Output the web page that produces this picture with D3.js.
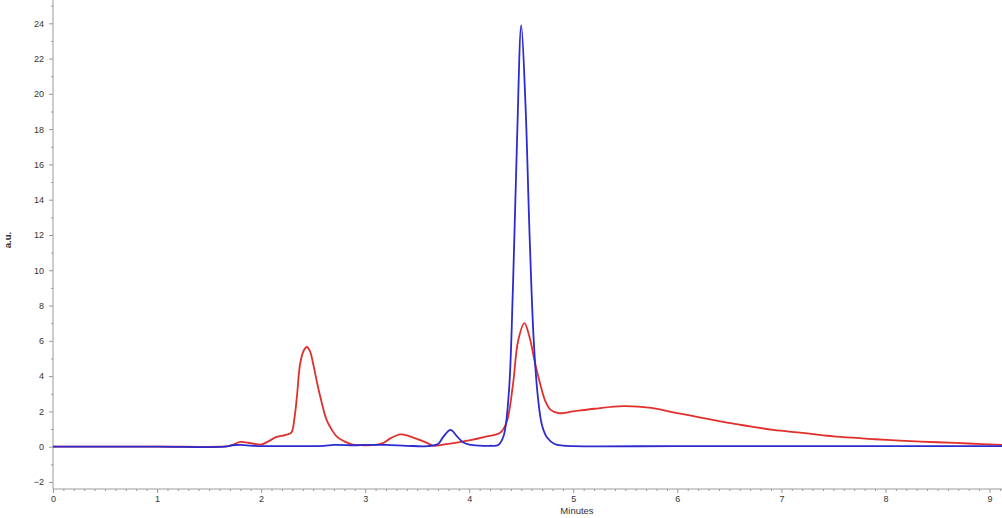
<!DOCTYPE html>
<html>
<head>
<meta charset="utf-8">
<script src="https://cdn.jsdelivr.net/npm/d3@7"></script>
<style>
  body { margin: 0; background: #fff; }
  svg { display: block; font-family: "Liberation Sans", Arial, sans-serif; }
  .axis path, .axis line { stroke: #9a9a9a; }
  .axis text { fill: #333; font-size: 9px; }
  .trace { fill: none; stroke-width: 1.8; stroke-linejoin: round; }
</style>
</head>
<body>
<div id="chart"></div>
<script>
// Chromatogram: two traces, red and blue

////////////////////////////////////////////////////////////////////////////////
// Data
const redTime = [0, 1.0, 1.6, 1.7, 1.8, 1.9, 2.0, 2.06, 2.15, 2.23, 2.29, 2.32, 2.345, 2.375, 2.41, 2.44, 2.47, 2.5, 2.535, 2.57, 2.63, 2.68, 2.73, 2.8, 2.88, 2.98, 3.1, 3.17, 3.25, 3.34, 3.42, 3.53, 3.6, 3.66, 3.75, 3.85, 4.0, 4.15, 4.3, 4.36, 4.42, 4.47, 4.53, 4.58, 4.63, 4.68, 4.73, 4.78, 4.86, 5.0, 5.2, 5.48, 5.75, 5.96, 6.2, 6.44, 6.7, 6.92, 7.2, 7.57, 7.9, 8.14, 8.5, 8.8, 9.12];
const redValue = [0, 0, 0, 0.04, 0.27, 0.2, 0.12, 0.27, 0.55, 0.66, 0.8, 1.6, 2.9, 4.7, 5.45, 5.65, 5.4, 4.7, 3.7, 2.8, 1.5, 0.95, 0.55, 0.3, 0.12, 0.08, 0.1, 0.2, 0.5, 0.7, 0.6, 0.37, 0.2, 0.05, 0.12, 0.2, 0.35, 0.55, 0.8, 1.4, 3.5, 6.0, 7.0, 6.2, 4.8, 3.6, 2.6, 2.1, 1.9, 2.0, 2.15, 2.3, 2.2, 1.95, 1.68, 1.4, 1.15, 0.95, 0.78, 0.55, 0.42, 0.34, 0.25, 0.18, 0.1];

const blueTime = [0, 1.0, 1.65, 1.72, 1.8, 1.9, 2.0, 2.3, 2.6, 2.7, 2.9, 3.0, 3.2, 3.4, 3.6, 3.7, 3.75, 3.82, 3.88, 3.94, 4.0, 4.1, 4.2, 4.28, 4.33, 4.38, 4.42, 4.46, 4.5, 4.54, 4.58, 4.62, 4.66, 4.7, 4.75, 4.82, 4.9, 5.0, 6.0, 7.0, 8.0, 9.12];
const blueValue = [0, 0, 0, 0.08, 0.1, 0.06, 0.03, 0.03, 0.04, 0.1, 0.08, 0.1, 0.1, 0.05, 0.03, 0.15, 0.55, 0.95, 0.6, 0.25, 0.12, 0.06, 0.05, 0.1, 0.6, 3.0, 9.0, 17.5, 23.9, 19.5, 12.0, 6.0, 2.8, 1.2, 0.5, 0.15, 0.06, 0.03, 0.03, 0.03, 0.03, 0.03];

const xTicks = [0, 1, 2, 3, 4, 5, 6, 7, 8, 9];
const yTicks = [-2, 0, 2, 4, 6, 8, 10, 12, 14, 16, 18, 20, 22, 24];

////////////////////////////////////////////////////////////////////////////////
// Setup
const W = 1002, H = 518;
const left = 53, plotBottom = 489;

const x = d3.scaleLinear().domain([0, 9.12]).range([left, W]);
const y = d3.scaleLinear().domain([-2.4, 25.32]).range([plotBottom, 0]);

const svg = d3.select('#chart').append('svg')
  .attr('width', W)
  .attr('height', H);

// minor ticks
const xMinor = d3.range(0, 9.11, 0.1).filter(d => Math.abs(d - Math.round(d)) > 1e-6);
const yMinor = d3.range(-2, 25.1, 1).filter(d => d % 2 !== 0);

svg.append('g')
  .attr('class', 'axis')
  .attr('transform', `translate(0,${plotBottom})`)
  .call(d3.axisBottom(x).tickValues(xMinor).tickSize(2).tickFormat(''))
  .call(g => g.select('.domain').remove());

svg.append('g')
  .attr('class', 'axis')
  .attr('transform', `translate(0,${plotBottom})`)
  .call(d3.axisBottom(x).tickValues(xTicks).tickSize(4).tickPadding(3).tickFormat(d3.format('d')))
  .call(g => g.select('.domain').attr('d', `M${left},0H${W}`));

svg.append('g')
  .attr('class', 'axis')
  .attr('transform', `translate(${left},0)`)
  .call(d3.axisLeft(y).tickValues(yMinor).tickSize(2).tickFormat(''))
  .call(g => g.select('.domain').remove());

svg.append('g')
  .attr('class', 'axis')
  .attr('transform', `translate(${left},0)`)
  .call(d3.axisLeft(y).tickValues(yTicks).tickSize(4).tickPadding(5).tickFormat(d3.format('d')))
  .call(g => g.select('.domain').attr('d', `M0,0V${plotBottom}`));

// axis titles
svg.append('text')
  .attr('x', 577)
  .attr('y', 514)
  .attr('text-anchor', 'middle')
  .attr('font-size', 9.5)
  .attr('fill', '#333')
  .text('Minutes');

svg.append('text')
  .attr('transform', `translate(11,240) rotate(-90)`)
  .attr('text-anchor', 'middle')
  .attr('font-size', 9.5)
  .attr('font-weight', 'bold')
  .attr('fill', '#333')
  .text('a.u.');

////////////////////////////////////////////////////////////////////////////////
// Traces
const line = d3.line()
  .x(d => x(d[0]))
  .y(d => y(d[1]))
  .curve(d3.curveCatmullRom.alpha(0.5));

svg.append('path')
  .attr('class', 'trace')
  .attr('stroke', '#e0302c')
  .attr('d', line(d3.zip(redTime, redValue)));

svg.append('path')
  .attr('class', 'trace')
  .attr('stroke', '#2b2bd0')
  .attr('d', line(d3.zip(blueTime, blueValue)));
</script>
</body>
</html>
